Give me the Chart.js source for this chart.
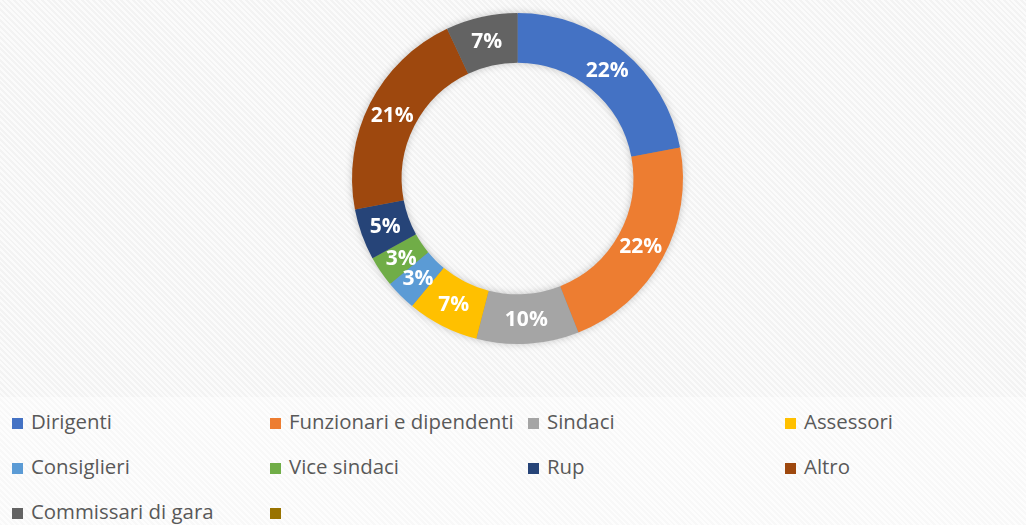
<!DOCTYPE html>
<html>
<head>
<meta charset="utf-8">
<script src="https://cdn.jsdelivr.net/npm/chart.js@4/dist/chart.umd.min.js"></script>
<style>
  html, body { margin: 0; padding: 0; }
  body {
    width: 1026px; height: 525px; overflow: hidden; position: relative;
    background: repeating-linear-gradient(45deg, #f3f3f3 0px, #f3f3f3 2px, #fbfbfb 2px, #fbfbfb 4px);
    font-family: "Open Sans", sans-serif;
  }
  #chartBox { position: absolute; left: 342px; top: 3px; width: 351px; height: 351px; }
  #legendBox {
    position: absolute; left: 0; top: 397px; width: 1026px; height: 128px;
    background: repeating-linear-gradient(45deg, #f8f8f8 0px, #f8f8f8 2px, #fdfdfd 2px, #fdfdfd 4px);
  }
  .item { position: absolute; height: 24px; line-height: 24px; font-size: 20.4px; color: #595959; white-space: nowrap; }
  .item span.box { display: inline-block; width: 11px; height: 11px; margin-right: 8px; vertical-align: 0px; }
</style>
</head>
<body>
<div id="chartBox"><canvas id="progressChart"></canvas></div>
<div id="legendBox"></div>
<script>
const labels = ['Dirigenti', 'Funzionari e dipendenti', 'Sindaci', 'Assessori', 'Consiglieri',
  'Vice sindaci', 'Rup', 'Altro', 'Commissari di gara', ''];
const percents = [22, 22, 10, 7, 3, 3, 5, 21, 7, 0];
const colors = ['#4472C4', '#ED7D31', '#A5A5A5', '#FFC000', '#5B9BD5',
  '#70AD47', '#264478', '#9E480E', '#636363', '#997300'];

// soft shadow under the ring, then white % labels on top
const ringShadow = {
  id: 'ringShadow',
  beforeDatasetsDraw(chart) {
    const arc = chart.getDatasetMeta(0).data[0];
    if (!arc) return;
    const { x, y, outerRadius, innerRadius } = arc.getProps(['x', 'y', 'outerRadius', 'innerRadius'], true);
    const ctx = chart.ctx;
    ctx.save();
    ctx.shadowColor = 'rgba(0,0,0,0.28)';
    ctx.shadowBlur = 9;
    ctx.fillStyle = '#888';
    ctx.beginPath();
    ctx.arc(x, y, outerRadius - 1, 0, Math.PI * 2);
    ctx.arc(x, y, innerRadius + 1, 0, Math.PI * 2, true);
    ctx.fill();
    ctx.restore();
  }
};

const pctLabels = {
  id: 'pctLabels',
  afterDatasetsDraw(chart) {
    const ctx = chart.ctx;
    ctx.save();
    ctx.fillStyle = '#fff';
    ctx.font = 'bold 21px "Open Sans"';
    ctx.textAlign = 'center';
    ctx.textBaseline = 'middle';
    chart.getDatasetMeta(0).data.forEach((arc, i) => {
      const v = chart.data.datasets[0].data[i];
      if (!v) return;
      const p = arc.tooltipPosition();
      ctx.fillText(v + '%', p.x, p.y + 1);
    });
    ctx.restore();
  }
};

const ctx = document.getElementById('progressChart').getContext('2d');

const chart = new Chart(ctx, {
  type: 'doughnut',
  data: {
    labels: labels,
    datasets: [{
      data: percents,
      backgroundColor: colors,
      borderWidth: 0
    }]
  },
  options: {
    responsive: true,
    maintainAspectRatio: false,
    animation: false,
    cutout: '70%',
    layout: { padding: 10 },
    plugins: {
      legend: { display: false },
      tooltip: { enabled: false }
    }
  },
  plugins: [ringShadow, pctLabels]
});

// legend laid out in a 4 column grid like the original
const legendBox = document.getElementById('legendBox');
const colX = [12, 270, 528, 785];
const rowY = [12, 57, 102];
labels.forEach((name, i) => {
  const el = document.createElement('div');
  el.className = 'item';
  el.style.left = colX[i % 4] + 'px';
  el.style.top = rowY[Math.floor(i / 4)] + 'px';
  const box = document.createElement('span');
  box.className = 'box';
  box.style.background = colors[i];
  el.appendChild(box);
  el.appendChild(document.createTextNode(name));
  legendBox.appendChild(el);
});
</script>
</body>
</html>
